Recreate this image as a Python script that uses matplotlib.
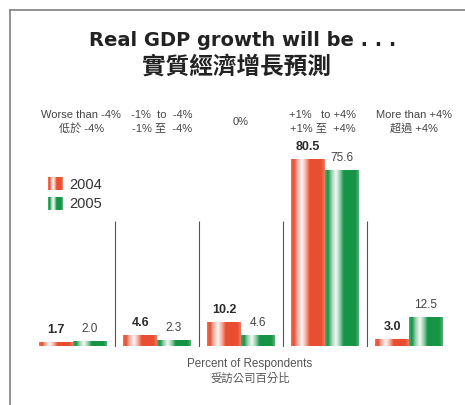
import numpy as np
import matplotlib
matplotlib.use("Agg")
from matplotlib import pyplot as plt
from matplotlib.lines import Line2D
from matplotlib.patches import Rectangle
from matplotlib.legend_handler import HandlerBase

plt.rcParams['font.family'] = ['Liberation Sans', 'Noto Sans CJK TC', 'DejaVu Sans']

# survey shares (% of respondents)
categories_en = ['Worse than -4%', '-1%  to  -4%', '0%', '+1%   to +4%', 'More than +4%']
categories_zh = ['低於 -4%', '-1% 至  -4%', '', '+1% 至  +4%', '超過 +4%']
years = ['2004', '2005']
share_2004 = [1.7, 4.6, 10.2, 80.5, 3.0]
share_2005 = [2.0, 2.3, 4.6, 75.6, 12.5]

red = np.array([233, 78, 48]) / 255.
green = np.array([22, 148, 70]) / 255.

# stripe profile across a bar: 1 = full colour, 0 = white
prof_x = [0.0, 0.08, 0.2, 0.32, 0.45, 0.55, 0.9, 1.0]
prof_t = [0.8, 1.0, 0.4, 0.05, 0.5, 1.0, 1.0, 0.75]

def stripe_colors(base, n=64):
    t = np.interp(np.linspace(0, 1, n), prof_x, prof_t)[:, None]
    return t * base + (1 - t) * np.ones(3)

def draw_bar(ax, x0, width, h, base):
    img = stripe_colors(base)[None, :, :]
    ax.imshow(img, extent=[x0, x0 + width, 0, h], aspect='auto',
              interpolation='bilinear', zorder=2)

class StripeHandler(HandlerBase):
    def __init__(self, base):
        super().__init__()
        self.base = base
    def create_artists(self, legend, orig_handle, xdescent, ydescent,
                       width, height, fontsize, trans):
        cols = stripe_colors(self.base, 16)
        w = width / len(cols)
        arts = []
        for i, c in enumerate(cols):
            r = Rectangle((-xdescent + i * w, -ydescent), w * 1.05, height,
                          facecolor=c, edgecolor='none', transform=trans)
            arts.append(r)
        return arts

W, H = 465, 405
fig = plt.figure(figsize=(W / 100, H / 100), dpi=100)
fig.patch.set_facecolor('white')

# px helpers
base_px = 346.5
scale_px = 2.32
ax = fig.add_axes([30 / W, 1 - base_px / H, 422 / W, 100 * scale_px / H])
ax.axis('off')

x = np.arange(len(share_2004))
bw = 0.4
for i in range(len(x)):
    draw_bar(ax, x[i] - bw, bw, share_2004[i], red)
    draw_bar(ax, x[i], bw, share_2005[i], green)
    ax.annotate('{:.1f}'.format(share_2004[i]), (x[i] - bw / 2, share_2004[i]),
                xytext=(0, 5), textcoords='offset points', ha='center', va='bottom',
                fontsize=9, fontweight='bold', color='#2a2a2a')
    ax.annotate('{:.1f}'.format(share_2005[i]), (x[i] + bw / 2, share_2005[i]),
                xytext=(0, 5), textcoords='offset points', ha='center', va='bottom',
                fontsize=8.5, color='#444444')
ax.set_xlim(-0.512, 4.512)
ax.set_ylim(0, 100)

# separators between groups
ax.vlines(x[:-1] + 0.5, 0, 54, color='#555555', lw=0.8)

# category headings
head_dx = [0.1, 0.06, 0.0, -0.03, 0.06]
for i in range(len(x)):
    if categories_zh[i]:
        ax.text(x[i] + head_dx[i], (base_px - 115) / (100 * scale_px), categories_en[i],
                transform=ax.get_xaxis_transform(), ha='center', va='center',
                fontsize=8, color='#444444')
        ax.text(x[i] + head_dx[i], (base_px - 128) / (100 * scale_px), categories_zh[i],
                transform=ax.get_xaxis_transform(), ha='center', va='center',
                fontsize=8, color='#444444')
    else:
        ax.text(x[i] + head_dx[i], (base_px - 122) / (100 * scale_px), categories_en[i],
                transform=ax.get_xaxis_transform(), ha='center', va='center',
                fontsize=8, color='#444444')

# legend
h1 = Rectangle((0, 0), 1, 1)
h2 = Rectangle((0, 0), 1, 1)
leg = fig.legend([h1, h2], years, loc='upper left',
                 bbox_to_anchor=(48 / W, 1 - 177 / H), frameon=False,
                 borderpad=0, borderaxespad=0, handlelength=1.05, handleheight=1.0,
                 handletextpad=0.4, labelspacing=0.35, fontsize=10.5,
                 labelcolor='#333333',
                 handler_map={h1: StripeHandler(red), h2: StripeHandler(green)})

# titles
fig.text(243 / W, 1 - 41 / H, 'Real GDP growth will be . . .', ha='center', va='center',
         fontsize=14, fontweight='bold', color='#222222', family='DejaVu Sans')
fig.text(236 / W, 1 - 67 / H, '實質經濟增長預測', ha='center', va='center',
         fontsize=17, fontweight='bold', color='#222222')

# bottom caption
fig.text(250 / W, 1 - 364 / H, 'Percent of Respondents', ha='center', va='center',
         fontsize=8.4, color='#555555')
fig.text(250 / W, 1 - 378 / H, '受訪公司百分比', ha='center', va='center',
         fontsize=8.2, color='#555555')

# outer frame
fig.add_artist(Line2D([9.5 / W, 9.5 / W], [0, 1 - 10 / H], color='#8a8a8a', lw=1.3))
fig.add_artist(Line2D([9.5 / W, 1], [1 - 10 / H, 1 - 10 / H], color='#8a8a8a', lw=1.3))

fig.savefig('out.png', dpi=100)
